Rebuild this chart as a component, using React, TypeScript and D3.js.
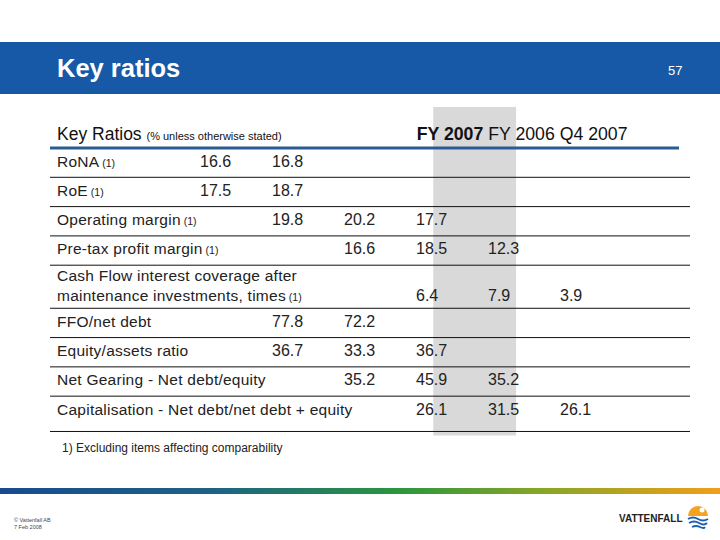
import React from "react";
import * as d3 from "d3";

const rowLabels: string[][] = [
  ["RoNA"],
  ["RoE"],
  ["Operating margin"],
  ["Pre-tax profit margin"],
  ["Cash Flow interest coverage after", "maintenance investments, times"],
  ["FFO/net debt"],
  ["Equity/assets ratio"],
  ["Net Gearing - Net debt/equity"],
  ["Capitalisation - Net debt/net debt + equity"],
];
const rowNotes: boolean[] = [true, true, true, true, true, false, false, false, false];
// values placed by column slot index (0..5), as in the original slide
const rowStartCol: number[] = [0, 0, 1, 2, 3, 1, 1, 2, 3];
const rowValues: string[][] = [
  ["16.6", "16.8"],
  ["17.5", "18.7"],
  ["19.8", "20.2", "17.7"],
  ["16.6", "18.5", "12.3"],
  ["6.4", "7.9", "3.9"],
  ["77.8", "72.2"],
  ["36.7", "33.3", "36.7"],
  ["35.2", "45.9", "35.2"],
  ["26.1", "31.5", "26.1"],
];
const periods: string[] = ["FY 2007", "FY 2006", "Q4 2007"];
const title = "Key ratios";
const pageNo = "57";
const footnote = "1) Excluding items affecting comparability";

const W = 720;
const H = 540;
const FONT = "Liberation Sans, Arial, sans-serif";

export default function App() {
  // row units: two-line row takes 1.47 units
  const units = rowLabels.map((l) => (l.length > 1 ? 1.47 : 1));
  const cum = d3.cumsum(units);
  const starts = [0, ...Array.from(cum).slice(0, -1)];
  const y = d3.scaleLinear().domain([0, 1]).range([148, 177.3]);
  const x = d3.scaleLinear().domain([0, 1]).range([200, 272]);
  const total = cum[cum.length - 1];
  const tableBottom = y(total) + 6;

  const grad = [
    { o: "0%", c: "#1a4a8e" },
    { o: "30%", c: "#1d6384" },
    { o: "55%", c: "#2a953f" },
    { o: "75%", c: "#86a626" },
    { o: "100%", c: "#f29e1a" },
  ];

  return (
    <svg width={W} height={H} style={{ position: "absolute", left: 0, top: 0, background: "#fff" }} fontFamily={FONT}>
      <defs>
        <linearGradient id="bar" x1="0" x2="1" y1="0" y2="0">
          {grad.map((g) => (
            <stop key={g.o} offset={g.o} stopColor={g.c} />
          ))}
        </linearGradient>
      </defs>
      <rect x={0} y={0} width={W} height={H} fill="#fff" />
      {/* banner */}
      <rect x={0} y={42} width={W} height={52} fill="#1759a6" />
      <text x={57} y={77} fill="#fff" fontSize={25.5} fontWeight="bold">
        {title}
      </text>
      <text x={668} y={75} fill="#fff" fontSize={13}>
        {pageNo}
      </text>

      {/* highlighted column */}
      <rect x={x(3.24)} y={107} width={x(4.39) - x(3.24)} height={tableBottom + 4 - 107} fill="#d9d9d9" />

      {/* header */}
      <text x={57} y={140} fill="#111" fontSize={17.5}>
        Key Ratios <tspan fontSize={11}>(% unless otherwise stated)</tspan>
      </text>
      <text x={x(3.01)} y={140} fill="#111" fontSize={17.7}>
        <tspan fontWeight="bold">{periods[0]}</tspan> {periods[1]} {periods[2]}
      </text>
      <line x1={50} x2={679} y1={y(0)} y2={y(0)} stroke="#2a5c94" strokeWidth={3} />

      {/* rows */}
      {rowLabels.map((lab, i) => {
        const top = y(starts[i]);
        const bottom = i === rowLabels.length - 1 ? tableBottom : y(cum[i]);
        const two = lab.length > 1;
        const lastBase = two ? top + 35.5 : top + 18.5;
        return (
          <g key={i}>
            {lab.map((t, j) => (
              <text key={j} x={57} y={two ? top + 15.5 + j * 20 : lastBase} fill="#222" fontSize={15.5} letterSpacing={0.25}>
                {t}
                {j === lab.length - 1 && rowNotes[i] ? <tspan fontSize={10.5} letterSpacing={0}> (1)</tspan> : null}
              </text>
            ))}
            {rowValues[i].map((v, k) => (
              <text key={"v" + k} x={x(rowStartCol[i] + k)} y={lastBase} fill="#222" fontSize={16}>
                {v}
              </text>
            ))}
            <line x1={50} x2={690} y1={bottom} y2={bottom} stroke="#111" strokeWidth={1} />
          </g>
        );
      })}

      <text x={62} y={452} fill="#222" fontSize={12}>
        {footnote}
      </text>

      {/* bottom gradient bar */}
      <rect x={0} y={488} width={W} height={6} fill="url(#bar)" />

      {/* footer */}
      <text x={14} y={522} fill="#444" fontSize={5.5}>© Vattenfall AB</text>
      <text x={14} y={529} fill="#444" fontSize={5.5}>7 Feb 2008</text>

      {/* logo */}
      <text x={619} y={522} fill="#222" fontSize={10} fontWeight="bold">
        VATTENFALL
      </text>
      <path d="M688,516 A10,10 0 0 1 708,516 Z" fill="#f5a21e" />
      <circle cx={702} cy={510} r={2.5} fill="#fff" />
      <path d="M688,519 Q693,516 698,519 T708,519" fill="none" stroke="#1f5fae" strokeWidth={2} />
      <path d="M689,523 Q694,520 699,523 T707,523" fill="none" stroke="#1f5fae" strokeWidth={2} />
      <path d="M692,527 Q696,525 700,527 T705,527" fill="none" stroke="#1f5fae" strokeWidth={1.8} />
    </svg>
  );
}
